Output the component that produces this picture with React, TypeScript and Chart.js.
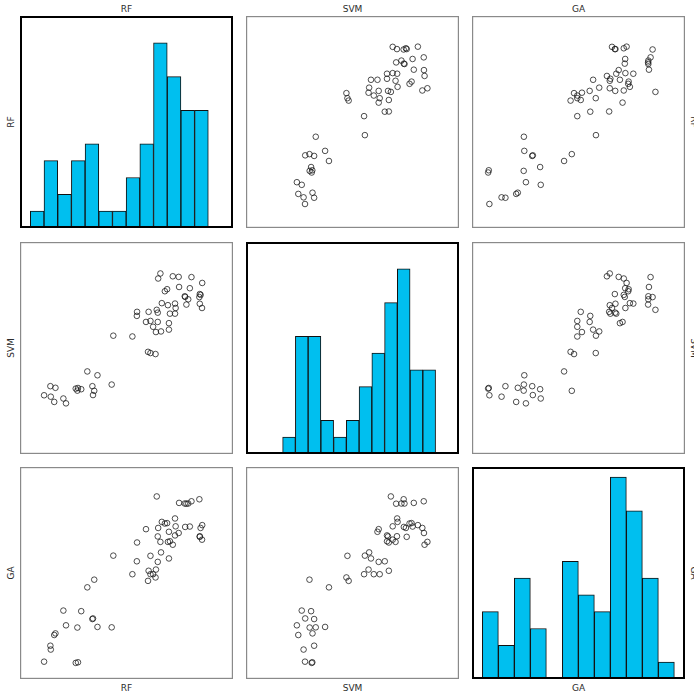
import React, { useEffect, useRef } from "react";
import { Chart, registerables } from "chart.js";

Chart.register(...registerables);

// ---- data ----
const VAR_NAMES = ["RF", "SVM", "GA"];

const RF = [
  9.4, 12.5, 12.7, 15.0, 14.4, 18.9, 20.2, 25.0, 26.1, 25.8, 27.7, 30.7, 35.7, 33.2, 34.1, 33.5, 42.7,
  43.5, 52.9, 60.6, 61.8, 64.3,
  55.2, 55.1, 60.9, 59.6, 61.8, 63.1, 64.5, 65.4, 64.9, 65.4, 67.0, 67.4, 70.4, 70.9, 70.9, 71.4,
  73.9, 74.2, 73.9, 68.9, 70.0, 66.7, 65.6, 72.8, 75.7, 75.9, 78.7, 78.9, 80.4, 79.5, 81.2, 82.0,
  86.1, 86.5, 85.9, 87.3, 86.1, 87.2,
];
const SVM = [
  26.6, 31.1, 25.9, 30.3, 23.3, 25.0, 22.6, 29.9, 30.2, 28.9, 29.6, 38.4, 36.5, 31.1, 28.8, 26.7, 31.9,
  56.1, 55.7, 48.1, 47.5, 47.0,
  67.9, 65.9, 67.9, 62.9, 63.4, 60.5, 57.9, 62.9, 68.9, 67.5, 58.2, 72.2, 71.2, 62.3, 59.1, 67.0,
  72.0, 69.8, 67.0, 78.1, 79.1, 86.9, 84.4, 85.5, 85.2, 80.2, 75.6, 75.3, 74.1, 71.5, 79.6, 85.1,
  76.7, 76.3, 75.2, 82.2, 71.9, 69.8,
];
const GA = [
  6.1, 14.0, 12.1, 20.1, 19.3, 31.4, 24.1, 5.5, 5.8, 23.0, 31.1, 42.9, 23.3, 27.2, 46.7, 27.5, 23.1,
  58.6, 49.4, 46.1, 58.5, 47.8,
  65.1, 55.8, 51.1, 71.7, 49.4, 49.4, 51.7, 55.5, 87.9, 68.1, 60.2, 75.3, 65.4, 70.4, 57.2, 65.7,
  77.0, 73.1, 68.6, 74.5, 74.7, 65.4, 72.3, 64.0, 69.8, 84.7, 84.4, 72.8, 84.4, 84.3, 73.0, 85.5,
  67.9, 72.3, 86.5, 73.7, 68.2, 66.5,
];

// histogram counts per bin (diagonal panels)
const RF_COUNTS = [1, 4, 2, 4, 5, 1, 1, 3, 5, 11, 9, 7, 7];
const SVM_COUNTS = [1, 7, 7, 2, 1, 2, 4, 6, 9, 11, 5, 5];
const GA_COUNTS = [4, 2, 6, 3, 0, 7, 5, 4, 12, 10, 6, 1];
// first and last bin edge on the (shared) histogram axis
const RF_BIN_EDGES = [4.85, 88.4];
const SVM_BIN_EDGES = [17.2, 89.0];
const GA_BIN_EDGES = [4.86, 95.0];

const VALUES = [RF, SVM, GA];
const COUNTS = [RF_COUNTS, SVM_COUNTS, GA_COUNTS];
const BIN_EDGES = [RF_BIN_EDGES, SVM_BIN_EDGES, GA_BIN_EDGES];

const AXIS_MIN = 0;
const AXIS_MAX = 100;
const HIST_Y_MAX = 12.6;

// ---- layout ----
const COL_LEFT = [20, 246, 472];
const ROW_TOP = [16, 242, 467];
const PANEL_W = 213;
const PANEL_H = 212;

const FONT = "'DejaVu Sans', sans-serif";
const TEXT_COLOR = "#2b2b2b";
const BAR_COLOR = "#00BFEF";

function framePlugin(color: string, width: number) {
  return {
    id: "frame",
    afterDraw(chart: any) {
      const ctx = chart.ctx;
      ctx.save();
      ctx.strokeStyle = color;
      ctx.lineWidth = width;
      ctx.strokeRect(width / 2, width / 2, chart.width - width, chart.height - width);
      ctx.restore();
    },
  };
}

function Panel({ row, col }: { row: number; col: number }) {
  const ref = useRef<HTMLCanvasElement | null>(null);
  useEffect(() => {
    if (!ref.current) return;
    let chart: Chart;
    const hiddenScale = (min: number, max: number) => ({
      type: "linear" as const,
      display: false,
      offset: false,
      grid: { offset: false },
      min,
      max,
      ticks: { maxTicksLimit: 3 },
    });
    if (row === col) {
      const counts = COUNTS[row];
      const [lo, hi] = BIN_EDGES[row];
      const w = (hi - lo) / counts.length;
      const data = counts.map((c, k) => ({ x: lo + w * (k + 0.5), y: c }));
      chart = new Chart(ref.current, {
        type: "bar",
        data: {
          datasets: [
            {
              data,
              backgroundColor: BAR_COLOR,
              borderColor: "#111111",
              borderWidth: 1,
              borderSkipped: false,
              categoryPercentage: 1,
              barPercentage: 1,
            } as any,
          ],
        },
        options: {
          animation: false,
          responsive: false,
          devicePixelRatio: 1,
          layout: { padding: 0 },
          plugins: { legend: { display: false }, tooltip: { enabled: false } },
          scales: {
            x: hiddenScale(AXIS_MIN, AXIS_MAX),
            y: hiddenScale(0, HIST_Y_MAX),
          },
        } as any,
        plugins: [framePlugin("#000000", 2)],
      });
    } else {
      const xs = VALUES[col];
      const ys = VALUES[row];
      const data = xs.map((x, k) => ({ x, y: ys[k] }));
      chart = new Chart(ref.current, {
        type: "scatter",
        data: {
          datasets: [
            {
              data,
              pointRadius: 2.8,
              pointBorderWidth: 1,
              pointBorderColor: "rgba(20,20,20,0.75)",
              pointBackgroundColor: "rgba(0,0,0,0)",
            },
          ],
        },
        options: {
          animation: false,
          responsive: false,
          devicePixelRatio: 1,
          layout: { padding: 0 },
          plugins: { legend: { display: false }, tooltip: { enabled: false } },
          scales: {
            x: hiddenScale(AXIS_MIN, AXIS_MAX),
            y: hiddenScale(AXIS_MIN, AXIS_MAX),
          },
        } as any,
        plugins: [framePlugin("#8a8a8a", 1.2)],
      });
    }
    return () => chart.destroy();
  }, [row, col]);
  return (
    <canvas
      ref={ref}
      width={PANEL_W}
      height={PANEL_H}
      style={{
        position: "absolute",
        left: COL_LEFT[col],
        top: ROW_TOP[row],
        width: PANEL_W,
        height: PANEL_H,
      }}
    />
  );
}

function Label({
  text,
  cx,
  cy,
  rotate,
}: {
  text: string;
  cx: number;
  cy: number;
  rotate: number;
}) {
  const W = 80;
  const H = 10;
  return (
    <div
      style={{
        position: "absolute",
        left: cx - W / 2,
        top: cy - H / 2,
        width: W,
        height: H,
        lineHeight: `${H}px`,
        fontSize: 9,
        fontFamily: FONT,
        color: TEXT_COLOR,
        textAlign: "center",
        whiteSpace: "nowrap",
        transform: rotate ? `rotate(${rotate}deg)` : undefined,
        transformOrigin: "50% 50%",
      }}
    >
      {text}
    </div>
  );
}

export default function App() {
  const panels = [];
  for (let r = 0; r < 3; r++) for (let c = 0; c < 3; c++) panels.push(<Panel key={`${r}-${c}`} row={r} col={c} />);
  const labels = [];
  for (let i = 0; i < 3; i++) {
    const cx = COL_LEFT[i] + PANEL_W / 2;
    const cy = ROW_TOP[i] + PANEL_H / 2;
    labels.push(<Label key={`t${i}`} text={VAR_NAMES[i]} cx={cx} cy={9.2} rotate={0} />);
    labels.push(<Label key={`b${i}`} text={VAR_NAMES[i]} cx={cx} cy={688} rotate={0} />);
    labels.push(<Label key={`l${i}`} text={VAR_NAMES[i]} cx={11.2} cy={cy} rotate={-90} />);
    labels.push(<Label key={`r${i}`} text={VAR_NAMES[i]} cx={693.8} cy={cy} rotate={90} />);
  }
  return (
    <div
      style={{
        position: "fixed",
        left: 0,
        top: 0,
        width: 694,
        height: 695,
        overflow: "hidden",
        background: "#ffffff",
      }}
    >
      {panels}
      {labels}
    </div>
  );
}
